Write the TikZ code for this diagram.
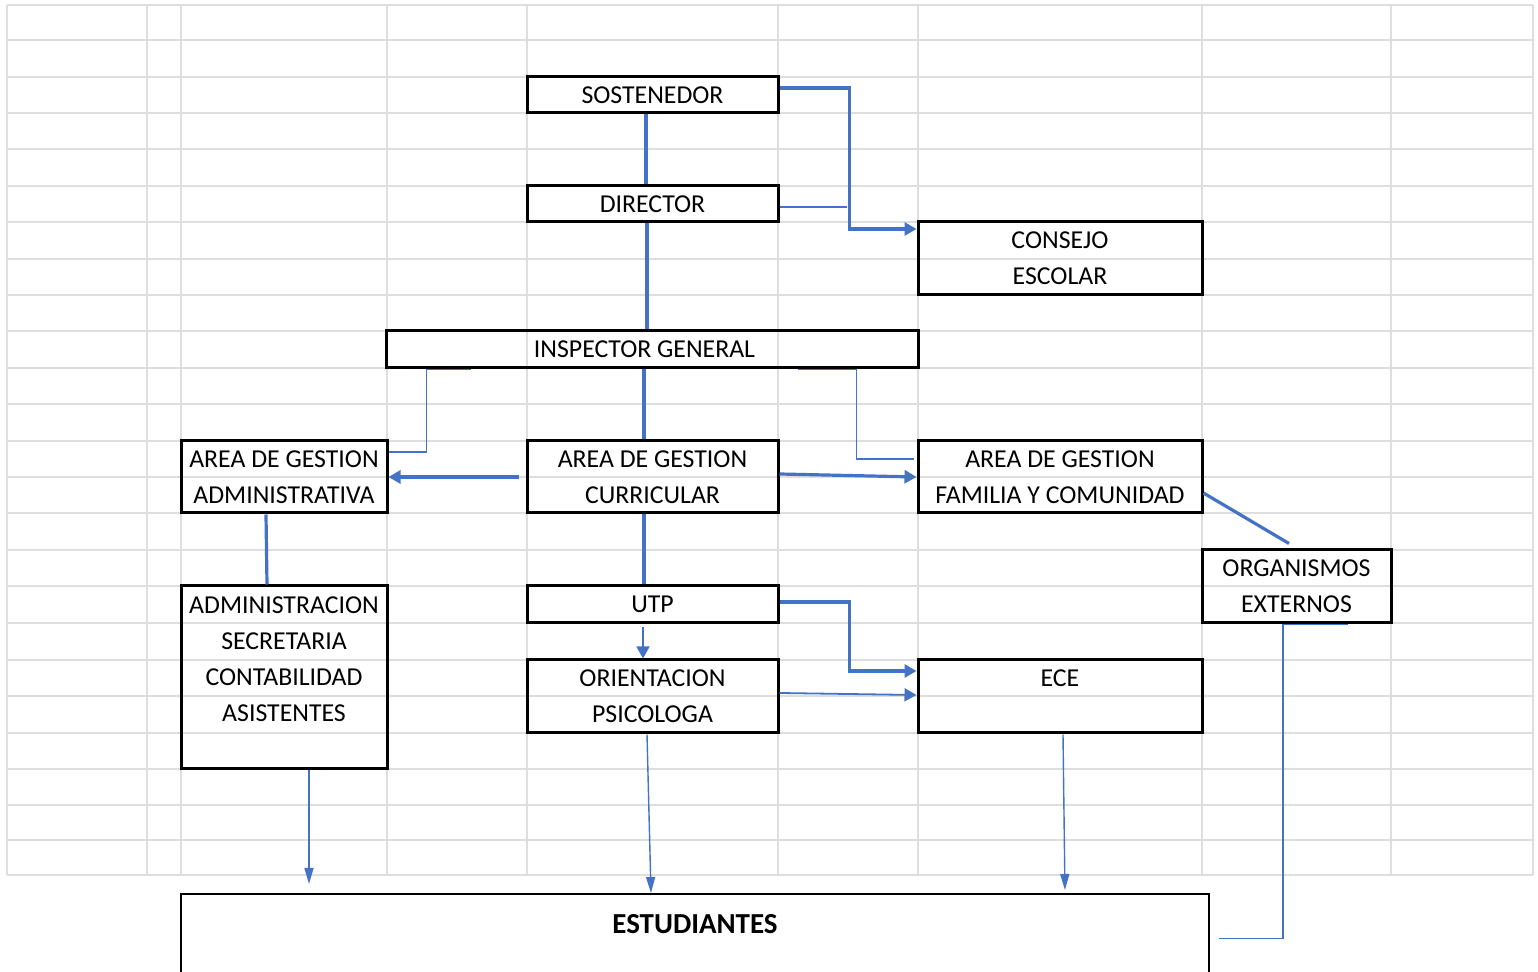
\documentclass[tikz,border=0pt]{standalone}
\usepackage{fontspec}
\setmainfont{Carlito}
\usetikzlibrary{arrows.meta}
\definecolor{azul}{HTML}{4472C4}
\definecolor{rejilla}{HTML}{DEDEDE}

\begin{document}
\begin{tikzpicture}[x=0.5pt,y=-0.5pt,
    caja/.style 2 args={draw,line width=1.5pt,inner sep=0pt,align=center,
      minimum width=#1*0.5pt,minimum height=#2*0.5pt,font=\fontsize{12.9}{18}\selectfont},
    grueso/.style={draw=azul,line width=1.6pt},
    fino/.style={draw=azul,line width=0.7pt},
    punta/.style={-{Triangle[length=6pt,width=6.5pt]}},
    puntalarga/.style={-{Triangle[length=8pt,width=4.5pt]}}]
  \clip (0,0) rectangle (1538,972);
  \fill[white] (0,0) rectangle (1538,972);
  \foreach \y in {5,40,77,113,149,186,222,259,295,331,368,404,441,477,513,550,586,623,660,696,733,769,805,840,875}
    \draw[rejilla,line width=1pt] (7,\y) -- (1533,\y);
  \foreach \x in {7,147,181,387,527,778,918,1202,1391,1533}
    \draw[rejilla,line width=1pt] (\x,5) -- (\x,875);

  \node[caja={251}{36}] (sost) at (652.5,95) {SOSTENEDOR};
  \node[caja={251}{36}] (dir) at (652.5,204) {DIRECTOR};
  \node[caja={284}{73}] (consejo) at (1060,258.5) {CONSEJO\\ESCOLAR};
  \node[caja={532}{37}] (insp) at (652,349.5) {INSPECTOR GENERAL\hspace{7.5pt}};
  \node[caja={206}{72}] (admarea) at (284,477) {AREA DE GESTION\\ADMINISTRATIVA};
  \node[caja={251}{72}] (curr) at (652.5,477) {AREA DE GESTION\\CURRICULAR};
  \node[caja={284}{72}] (fam) at (1060,477) {AREA DE GESTION\\FAMILIA Y COMUNIDAD};
  \node[caja={189}{73}] (org) at (1296.5,586.5) {ORGANISMOS\\EXTERNOS};
  \node[caja={206}{183}] (adm) at (284,677.5) {ADMINISTRACION\\SECRETARIA\\CONTABILIDAD\\ASISTENTES\\\mbox{}};
  \node[caja={251}{37}] (utp) at (652.5,604.5) {UTP};
  \node[caja={251}{73}] (orient) at (652.5,696.5) {ORIENTACION\\PSICOLOGA};
  \node[caja={284}{73}] (ece) at (1060,696.5) {ECE\\\mbox{}};
  \node[draw,line width=1pt,inner sep=0pt,anchor=north,minimum width=514pt,
    text height=19.5pt,text depth=40pt,font=\bfseries\fontsize{14.5}{17}\selectfont]
    (est) at (695,893) {ESTUDIANTES};

  \draw[grueso] ([xshift=-3.25pt]sost.south) -- ([xshift=-3.25pt]dir.north);
  \draw[grueso] ([xshift=-2.75pt]dir.south) -- ([xshift=-2.75pt]dir.south |- insp.north);
  \draw[grueso,punta] ([yshift=3.5pt]sost.east) -- ++(70,0) |- ([yshift=14.75pt]consejo.west);
  \draw[fino] ([yshift=-1.5pt]dir.east) -- ++(67,0);
  \draw[grueso] ([xshift=-4pt]insp.south) -- ([xshift=-4pt]insp.south |- curr.north);
  \draw[fino] ([xshift=43pt]insp.south west) -- ++(-44,0) |- ([yshift=12.5pt]admarea.east);
  \draw[fino] ([xshift=-61pt]insp.south east) -- ++(59,0) |- ([xshift=-1.5pt,yshift=9pt]fam.west);
  \draw[grueso,punta,shorten <=3.5pt] (curr.west) -- (admarea.east);
  \draw[grueso,punta] ([yshift=1.5pt]curr.east) -- (fam.west);
  \draw[grueso] ([yshift=-8pt]fam.east) -- ([xshift=-3.75pt,yshift=2.5pt]org.north);
  \draw[grueso] ([xshift=-9pt]admarea.south) -- ([xshift=-8.5pt]adm.north);
  \draw[grueso] ([xshift=-4.25pt]curr.south) -- ([xshift=-4.25pt]utp.north);
  \draw[grueso,punta] ([yshift=1.25pt]utp.east) -- ++(70,0) |- ([yshift=12.75pt]ece.west);
  \draw[fino,punta,shorten <=1.5pt] ([xshift=-4.75pt]utp.south) -- ([xshift=-4.75pt]orient.north);
  \draw[fino,line width=0.9pt,punta] ([yshift=1.75pt]orient.east) -- ([yshift=0.75pt]ece.west);
  \draw[fino,puntalarga,shorten >=4.5pt] ([xshift=12.5pt]adm.south) -- ([xshift=12.5pt]adm.south |- est.north);
  \draw[fino,puntalarga] ([xshift=-2.75pt]orient.south) -- ([xshift=-22pt]est.north);
  \draw[fino,puntalarga,shorten >=1.5pt] ([xshift=1.5pt]ece.south) -- ([xshift=2.5pt]ece.south |- est.north);
  \draw[fino] ([xshift=25.75pt]org.south) -- ++(-65,0) |- ([xshift=4.5pt,yshift=7.5pt]est.east);
\end{tikzpicture}
\end{document}
